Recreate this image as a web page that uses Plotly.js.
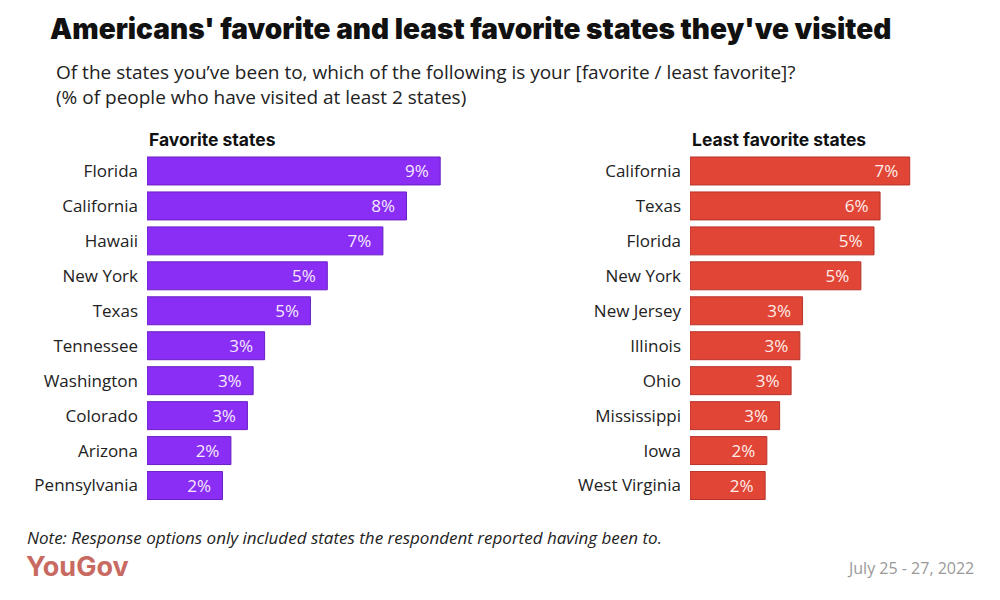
<!DOCTYPE html>
<html>
<head>
<meta charset="utf-8">
<script src="https://cdn.plot.ly/plotly-3.0.1.min.js"></script>
<style>html,body{margin:0;padding:0;background:#fff;}#chart{width:1000px;height:600px;}</style>
</head>
<body>
<div id="chart"></div>
<script>
// Favorite states (% of people who have visited at least 2 states)
const favStates = ["Florida","California","Hawaii","New York","Texas","Tennessee","Washington","Colorado","Arizona","Pennsylvania"];
const favValues = [8.7, 7.7, 7.0, 5.35, 4.85, 3.49, 3.15, 2.98, 2.49, 2.24];
// Least favorite states
const leastStates = ["California","Texas","Florida","New York","New Jersey","Illinois","Ohio","Mississippi","Iowa","West Virginia"];
const leastValues = [6.52, 5.64, 5.46, 5.07, 3.34, 3.26, 3.0, 2.66, 2.28, 2.23];

const FONT = "Open Sans, DejaVu Sans, sans-serif";
const pct = v => Math.round(v) + "%\u2002";

const PX = 33.7; // pixels per percent
const W = 1000, H = 600;
const leftX0 = 147, rightX0 = 690;
const leftMax = 9, rightMax = 7;
const yTop = 153.5, yBot = 503;

const barCommon = {
  type: "bar", orientation: "h",
  textposition: "inside", insidetextanchor: "end",
  constraintext: "none",
  hoverinfo: "skip", cliponaxis: false
};

const traces = [
  Object.assign({}, barCommon, {
    x: favValues, y: favStates, xaxis: "x", yaxis: "y",
    text: favValues.map(pct),
    marker: {color: "#8A2EF5", line: {color: "#6A1FC4", width: 1}},
    textfont: {family: FONT, size: 17, color: "#F6E9FF"}
  }),
  Object.assign({}, barCommon, {
    x: leastValues, y: leastStates, xaxis: "x2", yaxis: "y2",
    text: leastValues.map(pct),
    marker: {color: "#E04535", line: {color: "#B8322A", width: 1}},
    textfont: {family: FONT, size: 17, color: "#FFEDEA"}
  })
];

const yCommon = {
  autorange: "reversed", showgrid: false, zeroline: false, showline: false,
  ticks: "", ticklabelstandoff: 8,
  tickfont: {family: FONT, size: 17, color: "#222"},
  domain: [1 - yBot / H, 1 - yTop / H], fixedrange: true
};
const xCommon = {showgrid: false, zeroline: false, showline: false, showticklabels: false, ticks: "", fixedrange: true};

const layout = {
  width: W, height: H,
  margin: {l: 0, r: 0, t: 0, b: 0},
  paper_bgcolor: "#fff", plot_bgcolor: "#fff",
  showlegend: false, bargap: 0.2,
  font: {family: FONT},
  xaxis: Object.assign({}, xCommon, {domain: [leftX0 / W, (leftX0 + PX * leftMax) / W], range: [0, leftMax], anchor: "y"}),
  yaxis: Object.assign({}, yCommon, {anchor: "x"}),
  xaxis2: Object.assign({}, xCommon, {domain: [rightX0 / W, (rightX0 + PX * rightMax) / W], range: [0, rightMax], anchor: "y2"}),
  yaxis2: Object.assign({}, yCommon, {anchor: "x2"}),
  annotations: [
    {text: "Americans' favorite and least favorite states they've visited", xref: "paper", yref: "paper",
     x: 48 / W, y: 1 - 29 / H, xanchor: "left", yanchor: "middle", showarrow: false,
     font: {family: "Inter, Roboto, sans-serif", size: 28, color: "#111", weight: 900}},
    {text: "Of the states you’ve been to, which of the following is your [favorite / least favorite]?<br>(% of people who have visited at least 2 states)",
     xref: "paper", yref: "paper", x: 54 / W, y: 1 - 84 / H, xanchor: "left", yanchor: "middle", align: "left",
     showarrow: false, font: {family: FONT, size: 19, color: "#222"}},
    {text: "<b>Favorite states</b>", xref: "paper", yref: "paper", x: 147 / W, y: 1 - 139 / H,
     xanchor: "left", yanchor: "middle", showarrow: false, font: {family: "Inter, sans-serif", size: 17.5, color: "#111", weight: 800}},
    {text: "<b>Least favorite states</b>", xref: "paper", yref: "paper", x: 690 / W, y: 1 - 139 / H,
     xanchor: "left", yanchor: "middle", showarrow: false, font: {family: "Inter, sans-serif", size: 17.5, color: "#111", weight: 800}},
    {text: "<i>Note: Response options only included states the respondent reported having been to.</i>",
     xref: "paper", yref: "paper", x: 25 / W, y: 1 - 537 / H, xanchor: "left", yanchor: "middle",
     showarrow: false, font: {family: FONT, size: 17, color: "#222"}},
    {text: "<b>YouGov</b>", xref: "paper", yref: "paper", x: 24 / W, y: 1 - 566 / H, xanchor: "left", yanchor: "middle",
     showarrow: false, font: {family: "Inter, sans-serif", size: 27, color: "#C96A62", weight: 700}},
    {text: "July 25 - 27, 2022", xref: "paper", yref: "paper", x: 976 / W, y: 1 - 568 / H, xanchor: "right", yanchor: "middle",
     showarrow: false, font: {family: FONT, size: 16, color: "#999"}}
  ]
};

Plotly.newPlot("chart", traces, layout, {displayModeBar: false, staticPlot: true});
</script>
</body>
</html>
